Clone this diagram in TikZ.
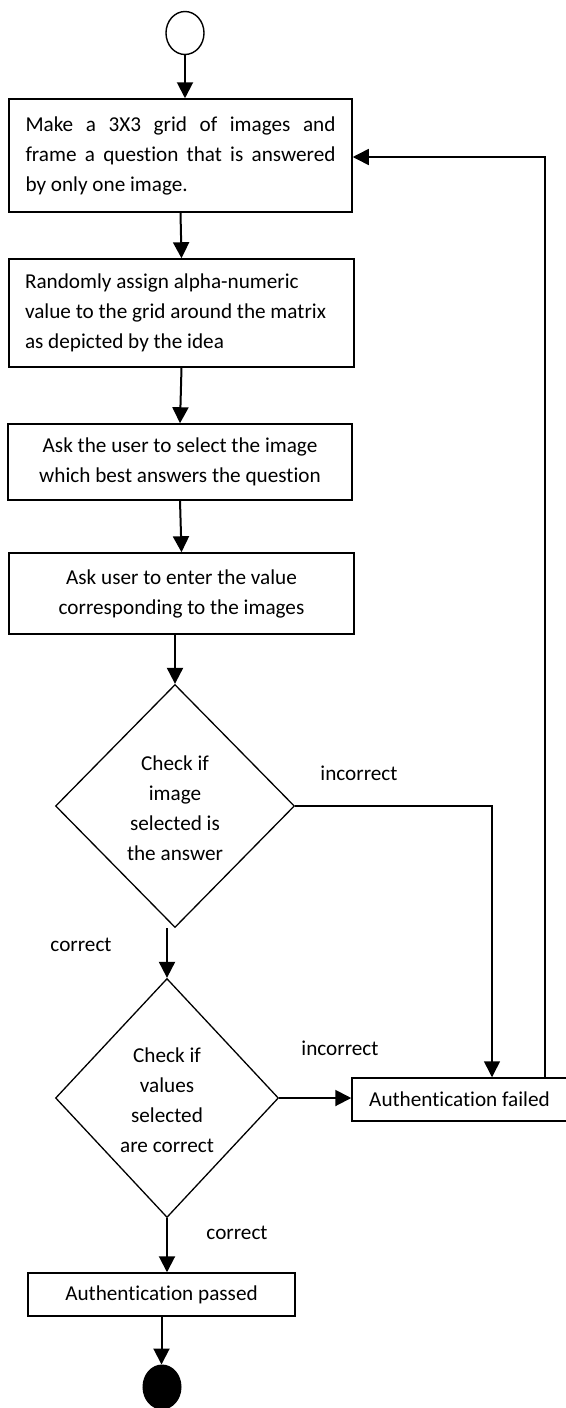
\documentclass[tikz,border=0pt]{standalone}
\usepackage{fontspec}
\setmainfont{Carlito}[Ligatures=NoCommon]
\usetikzlibrary{arrows.meta,shapes.geometric}
\newcommand{\natsp}{\spaceskip=0pt\xspaceskip=0pt\relax}
\begin{document}
\begin{tikzpicture}[x=1pt,y=-1pt,
  every node/.style={font=\fontsize{21.2}{30}\selectfont},
  boxn/.style={draw, line width=1.5pt, inner sep=0pt, align=center},
  dia/.style={draw, diamond, line width=1.3pt, inner sep=0pt},
  txt/.style={inner sep=0pt, align=center},
  lbl/.style={inner sep=0pt},
  arr/.style={line width=2pt, -{Triangle[length=16pt,width=16pt]}},
  arrthin/.style={line width=1.5pt, -{Triangle[length=16pt,width=16pt]}}
]
\useasboundingbox (0,0) rectangle (565,1408);

\node[ellipse, draw, line width=1.4pt, minimum width=38pt, minimum height=43pt, inner sep=0pt] (start) at (185,33) {};

\node[boxn, minimum width=343pt, minimum height=113pt, text width=310pt, inner xsep=16.5pt, align=left] (b1) at (180.5,155.5)
  {\natsp\makebox[310pt][s]{Make a 3X3 grid of images and}\\\makebox[310pt][s]{frame a question that is answered}\\by only one image.};

\node[boxn, minimum width=345pt, minimum height=108pt, text width=313pt, inner xsep=16pt, align=left] (b2) at (181.5,313)
  {\natsp Randomly assign alpha-numeric\\value to the grid around the matrix\\as depicted by the idea};

\node[boxn, minimum width=344pt, minimum height=76pt] (b3) at (180,462)
  {Ask the user to select the image\\which best answers the question};

\node[boxn, minimum width=345pt, minimum height=81pt] (b4) at (181.5,593.5)
  {Ask user to enter the value\\corresponding to the images};

\node[dia, minimum width=239pt, minimum height=243pt] (d1) at (175,806) {};
\node[txt] (d1t) at (175,808) {Check if\\image\\selected is\\the answer};

\node[dia, minimum width=223pt, minimum height=239pt] (d2) at (167,1098) {};
\node[txt] (d2t) at (167,1100) {Check if\\values\\selected\\are correct};

\node[boxn, minimum width=215pt, minimum height=43pt] (failed) at (459.5,1099.5) {Authentication failed};
\node[boxn, minimum width=267pt, minimum height=43pt] (passed) at (161.5,1294.5) {Authentication passed};

\node[ellipse, fill=black, draw, line width=1pt, minimum width=38pt, minimum height=44pt, inner sep=0pt] (end) at (162,1387) {};

\node[lbl] (l1) at (359,773) {incorrect};
\node[lbl] (l2) at (81,945) {correct};
\node[lbl] (l3) at (340,1048) {incorrect};
\node[lbl] (l4) at (237,1233) {correct};

\coordinate (k1) at (492,806);
\coordinate (k2) at (545,157);

\draw[arr] (start.south) -- (start.south |- b1.north);
\draw[arr] (b1.south) -- (b2.north);
\draw[arr] (b2.south) -- (b3.north);
\draw[arr] (b3.south) -- (b4.north);
\draw[arr] (b4.south -| d1.north) -- (d1.north);
\draw[arr] (d1.south -| d2.north) -- (d2.north);
\draw[arr] (d2.south) -- (d2.south |- passed.north);
\draw[arr] (passed.south) -- (passed.south |- end.north);
\draw[arrthin] (d1.east) -- (k1) -- (k1 |- failed.north);
\draw[arr] (d2.east) -- (d2.east -| failed.west);
\draw[arrthin] (k2 |- failed.north) -- (k2) -- (b1.east |- k2);
\end{tikzpicture}
\end{document}
